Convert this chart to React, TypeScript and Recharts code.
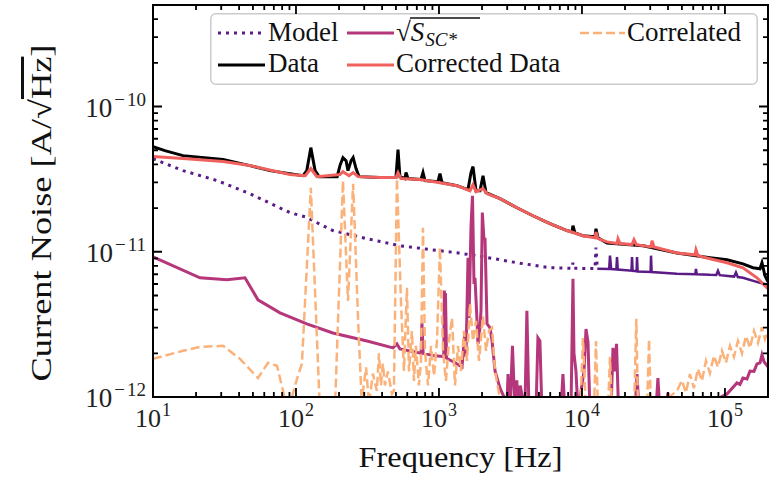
import React from "react";
import { Legend, Line, LineChart, XAxis, YAxis } from "recharts";

// Chart box and the plot rectangle left after margins and axis sizes
const W = 773;
const H = 478;
const MARGIN = { top: 5, right: 5, bottom: 0, left: 0 };
const Y_AXIS_W = 153;
const X_AXIS_H = 81;
const PLOT = {
  left: MARGIN.left + Y_AXIS_W,
  right: W - MARGIN.right,
  top: MARGIN.top,
  bottom: H - MARGIN.bottom - X_AXIS_H,
};

const FONT = "'Liberation Serif', 'DejaVu Serif', serif";

const C_MODEL = "#5a1b86";
const C_SSC = "#b5367a";
const C_CORR = "#f0605d";
const C_CORRL = "#fbb27a";
const C_DATA = "#000000";

// Axis decades and their exponent labels
const X_MAJOR = [10, 100, 1000, 10000, 100000];
const X_EXP = ["1", "2", "3", "4", "5"];
const Y_MAJOR = [1e-12, 1e-11, 1e-10];
const Y_EXP = ["12", "11", "10"];

const X_DOMAIN: [number, number] = [10, 2e5];
const Y_DOMAIN: [number, number] = [1e-12, 5e-10];

// Measured current noise (Hz, A/sqrt(Hz))
const dataFreq = [
  10, 12.1, 16.2, 30.9, 47.6, 65.8, 90.7, 112, 119, 127,
  136, 145, 194, 203, 213, 224, 231, 243, 251, 263,
  276, 386, 500, 517, 533, 578, 588, 607, 748, 773,
  798, 984, 1016, 1050, 1337, 1596, 1675, 1730, 1815, 1936,
  2032, 2133, 2673, 3510, 4540, 5970, 7850, 8510, 8650, 8930,
  10160, 12330, 12530, 12940, 14960, 26730, 46130, 78500, 103300, 133600,
  157000, 175800, 181500, 190500, 200000,
];
const dataAmp = [
  5.3e-11, 4.97e-11, 4.59e-11, 4.31e-11, 3.92e-11, 3.62e-11, 3.45e-11, 3.34e-11, 3.62e-11, 5.21e-11,
  3.62e-11, 3.29e-11, 3.29e-11, 3.92e-11, 4.45e-11, 4.24e-11, 3.62e-11, 4.24e-11, 4.45e-11, 3.74e-11,
  3.29e-11, 3.24e-11, 3.24e-11, 5.05e-11, 3.29e-11, 3.19e-11, 3.51e-11, 3.19e-11, 3.14e-11, 3.51e-11,
  3.09e-11, 3.04e-11, 3.45e-11, 2.99e-11, 2.85e-11, 2.68e-11, 3.51e-11, 3.86e-11, 2.63e-11, 2.63e-11,
  3.34e-11, 2.55e-11, 2.32e-11, 2.01e-11, 1.77e-11, 1.56e-11, 1.4e-11, 1.37e-11, 1.51e-11, 1.35e-11,
  1.29e-11, 1.27e-11, 1.44e-11, 1.25e-11, 1.15e-11, 1.1e-11, 9.8e-12, 9.1e-12, 8.81e-12, 8.26e-12,
  7.76e-12, 7.63e-12, 8.4e-12, 6.83e-12, 6.21e-12,
];

// After subtracting the correlated part
const corrFreq = [
  10, 16.2, 30.9, 47.6, 90.7, 116, 127, 140, 203, 213,
  235, 251, 272, 386, 500, 517, 542, 736, 1016, 1337,
  1648, 1730, 1815, 2032, 2168, 2673, 3510, 4540, 5970, 7850,
  10160, 12330, 12530, 12940, 14960, 17580, 17870, 18450, 22390, 23120,
  24000, 30400, 30900, 31900, 46130, 61700, 62700, 64700, 78500, 103300,
  133600, 167500, 200000,
];
const corrAmp = [
  4.52e-11, 4.38e-11, 4.18e-11, 3.92e-11, 3.4e-11, 3.34e-11, 3.74e-11, 3.29e-11, 3.4e-11, 3.56e-11,
  3.34e-11, 3.51e-11, 3.29e-11, 3.24e-11, 3.24e-11, 3.51e-11, 3.19e-11, 3.14e-11, 2.99e-11, 2.85e-11,
  2.63e-11, 2.9e-11, 2.59e-11, 2.72e-11, 2.51e-11, 2.32e-11, 2.01e-11, 1.77e-11, 1.56e-11, 1.4e-11,
  1.29e-11, 1.25e-11, 1.37e-11, 1.23e-11, 1.17e-11, 1.14e-11, 1.23e-11, 1.14e-11, 1.12e-11, 1.21e-11,
  1.12e-11, 1.08e-11, 1.19e-11, 1.08e-11, 9.8e-12, 9.53e-12, 1.03e-11, 9.38e-12, 8.95e-12, 8.4e-12,
  7.76e-12, 6.62e-12, 5.56e-12,
];

// Noise model, smooth part (drawn dotted)
const modelFreq = [
  10, 16.2, 28.1, 47.6, 90.7, 116, 181, 314, 533, 908,
  1337, 2032, 3510, 5970, 8510, 8650, 8800, 12330, 12530, 12800,
];
const modelAmp = [
  4.37e-11, 3.62e-11, 3.09e-11, 2.51e-11, 1.86e-11, 1.74e-11, 1.4e-11, 1.23e-11, 1.1e-11, 1.03e-11,
  9.84e-12, 9.24e-12, 8.4e-12, 7.76e-12, 7.7e-12, 8.4e-12, 7.7e-12, 7.65e-12, 1.07e-11, 7.65e-12,
];

// Noise model above ~13 kHz, where the dense points read as a solid line
const modelHfFreq = [
  12800, 15500, 15700, 16000, 17400, 17580, 17800, 22200, 22390, 22600,
  24100, 24270, 24500, 30200, 30400, 30700, 46130, 62000, 62700, 63500,
  78500, 87000, 89340, 92000, 116000, 119400, 123000, 133600, 175800, 200000,
];
const modelHfAmp = [
  7.65e-12, 7.6e-12, 9.4e-12, 7.6e-12, 7.55e-12, 9.2e-12, 7.55e-12, 7.4e-12, 9.2e-12, 7.4e-12,
  7.35e-12, 9.2e-12, 7.3e-12, 7.25e-12, 9.4e-12, 7.25e-12, 7.05e-12, 7.0e-12, 7.63e-12, 7.0e-12,
  6.94e-12, 6.93e-12, 7.39e-12, 6.9e-12, 6.75e-12, 7.2e-12, 6.7e-12, 6.62e-12, 6.11e-12, 5.92e-12,
];

// sqrt(S_SC*)
const sscFreq = [
  10, 21.3, 32.9, 44, 54.2, 77.3, 119, 181, 314, 477,
  508, 533, 736, 750, 760, 775, 937, 1080, 1090, 1102,
  1110, 1130, 1295, 1449, 1520, 1545, 1596, 1622, 1675, 1715,
  1758, 1786, 1830, 1875, 1936, 1967, 2010, 2065, 2098, 2168,
  2276, 2350, 2466, 2673, 2992, 3040, 3140, 3265, 3400, 3500,
  3600, 3700, 3990, 4120, 4260, 4770, 4920, 5080, 5250, 7130,
  7360, 7600, 8380, 8650, 8790, 9080, 9380, 10330, 10670, 11020,
  11370, 15960, 16480, 16870, 17450, 18020, 23500, 24270, 25060, 32900,
  33970, 35090, 38630, 39910, 41200, 66830, 85100, 103300, 121300, 127400,
  133600, 142600, 149600, 159600, 167500, 175800, 181500, 187600, 200000,
];
const sscAmp = [
  9.24e-12, 6.62e-12, 6.41e-12, 6.62e-12, 4.67e-12, 3.8e-12, 3.19e-12, 2.76e-12, 2.43e-12, 2.18e-12,
  2.32e-12, 2.14e-12, 2.01e-12, 2.0e-12, 3.24e-12, 2.0e-12, 1.92e-12, 1.9e-12, 5.4e-12, 3.0e-12,
  5.2e-12, 1.85e-12, 1.72e-12, 1.61e-12, 2.85e-12, 1.9e-12, 9.1e-12, 3.5e-12, 1.5e-11, 2.43e-11,
  6.0e-12, 6.62e-12, 4.0e-12, 2.32e-12, 3.0e-12, 3.92e-12, 1.86e-11, 1.2e-11, 1.25e-11, 3.19e-12,
  2.99e-12, 2.43e-12, 1.51e-12, 1.15e-12, 9e-13, 1.44e-12, 8e-13, 2.25e-12, 8e-13, 1.3e-12,
  8e-13, 1.2e-12, 8e-13, 3.92e-12, 8e-13, 8e-13, 2.55e-12, 2.43e-12, 8e-13, 8e-13,
  1.44e-12, 8e-13, 8e-13, 6.51e-12, 2.0e-12, 1.5e-12, 8e-13, 1.5e-12, 2.94e-12, 2.4e-12,
  8e-13, 8e-13, 2.18e-12, 1.5e-12, 2.32e-12, 8e-13, 8e-13, 1.44e-12, 8e-13, 8e-13,
  1.35e-12, 8e-13, 8e-13, 1.07e-12, 8e-13, 8e-13, 9.5e-13, 1.05e-12, 1.25e-12, 1.22e-12,
  1.35e-12, 1.33e-12, 1.51e-12, 1.5e-12, 1.69e-12, 1.72e-12, 1.95e-12, 1.75e-12, 1.61e-12,
];

// Correlated noise
const corrlFreq = [
  10, 16.2, 21.3, 30.9, 40.6, 54.2, 63.7, 73.6, 87.9, 102,
  110, 127, 147, 160, 187, 213, 231, 251, 272, 290,
  294, 309, 324, 345, 368, 380, 393, 405, 419, 439,
  469, 484, 508, 542, 569, 597, 617, 647, 668, 690,
  724, 748, 773, 798, 838, 880, 923, 968, 1016, 1067,
  1119, 1175, 1233, 1295, 1358, 1425, 1496, 1570, 1648, 1730,
  1815, 1905, 2032, 2133, 2239, 2350, 2466, 2589, 2763, 9720,
  10160, 10670, 12130, 12530, 12940, 15200, 15700, 16220, 23120, 24000,
  24660, 28500, 29440, 30400, 46130, 50000, 53300, 56890, 60700, 64700,
  69000, 73600, 78500, 83700, 89340, 95300, 101600, 108400, 115600, 123300,
  131500, 140300, 149600, 159600, 170200, 181500, 190500, 200000,
];
const corrlAmp = [
  1.83e-12, 2.08e-12, 2.21e-12, 2.25e-12, 1.83e-12, 1.35e-12, 1.72e-12, 1.64e-12, 8e-13, 1.35e-12,
  1.69e-12, 2.76e-11, 8e-13, 7e-13, 8e-13, 3.09e-11, 4.59e-12, 2.94e-11, 3.34e-12, 8e-13,
  1.1e-12, 1.6e-12, 9e-13, 1.45e-12, 1.1e-12, 2.0e-12, 1.2e-12, 1.7e-12, 1.2e-12, 1.5e-12,
  1.05e-12, 1.1e-12, 3.19e-11, 4.59e-12, 1.51e-12, 5.65e-12, 1.5e-12, 2.85e-12, 1.29e-12, 2.25e-12,
  1.2e-12, 1.77e-12, 1.46e-11, 2.08e-12, 1.2e-12, 2.25e-12, 1.4e-12, 2.43e-12, 1.07e-11, 2.08e-12,
  1.29e-12, 2.43e-12, 3.51e-12, 1.2e-12, 2.25e-12, 1.51e-12, 2.85e-12, 1.77e-12, 4.38e-12, 2.43e-12,
  3.34e-12, 1.77e-12, 3.62e-12, 2.08e-12, 2.85e-12, 2.99e-12, 1.51e-12, 1.15e-12, 8e-13, 8e-13,
  2.55e-12, 8e-13, 8e-13, 2.43e-12, 8e-13, 8e-13, 1.89e-12, 8e-13, 8e-13, 3.45e-12,
  8e-13, 8e-13, 2.5e-12, 8e-13, 1.1e-12, 1.3e-12, 1.07e-12, 1.44e-12, 1.15e-12, 1.56e-12,
  1.29e-12, 1.77e-12, 1.46e-12, 1.92e-12, 1.61e-12, 2.08e-12, 1.72e-12, 2.25e-12, 1.89e-12, 2.43e-12,
  2.0e-12, 2.63e-12, 2.18e-12, 2.85e-12, 2.36e-12, 3.03e-12, 2.5e-12, 2.85e-12,
];

const rows = (f: number[], v: number[]) => f.map((x, i) => ({ f: x, v: v[i] }));

const withMinors = (majors: number[], max: number) => {
  const out: number[] = [];
  majors.forEach((m) => {
    for (let k = 1; k <= 9; k++) {
      if (m * k < max * 0.999) out.push(m * k);
    }
  });
  return out;
};

const majorIndex = (majors: number[], v: number) =>
  majors.findIndex((m) => Math.abs(v / m - 1) < 1e-6);

const xTicks = withMinors(X_MAJOR, X_DOMAIN[1]);
const yTicks = withMinors(Y_MAJOR, Y_DOMAIN[1]);

// log position of a value inside the plot rectangle (same mapping as the chart axes)
const logFrac = (v: number, [a, b]: [number, number]) =>
  (Math.log10(v) - Math.log10(a)) / (Math.log10(b) - Math.log10(a));
const xPos = (f: number) => PLOT.left + logFrac(f, X_DOMAIN) * (PLOT.right - PLOT.left);
const yPos = (v: number) => PLOT.bottom - logFrac(v, Y_DOMAIN) * (PLOT.bottom - PLOT.top);

const MAJOR_LEN = 9;
const MINOR_LEN = 5;

// Frame with inward ticks on all four sides
function Frame() {
  let d = "";
  xTicks.forEach((f) => {
    const x = xPos(f);
    const len = majorIndex(X_MAJOR, f) >= 0 ? MAJOR_LEN : MINOR_LEN;
    d += `M${x},${PLOT.bottom}V${PLOT.bottom - len}M${x},${PLOT.top}V${PLOT.top + len}`;
  });
  yTicks.forEach((v) => {
    const y = yPos(v);
    const len = majorIndex(Y_MAJOR, v) >= 0 ? MAJOR_LEN : MINOR_LEN;
    d += `M${PLOT.left},${y}H${PLOT.left + len}M${PLOT.right},${y}H${PLOT.right - len}`;
  });
  return (
    <svg
      width={W}
      height={H}
      style={{ position: "absolute", left: 0, top: 0, pointerEvents: "none", zIndex: 2 }}
    >
      <path d={d} stroke="#000" strokeWidth={1.8} fill="none" />
      <rect
        x={PLOT.left}
        y={PLOT.top}
        width={PLOT.right - PLOT.left}
        height={PLOT.bottom - PLOT.top}
        stroke="#000"
        strokeWidth={2}
        fill="none"
      />
    </svg>
  );
}

function BottomLabel(props: any) {
  const { x, y, payload } = props;
  const i = majorIndex(X_MAJOR, payload.value);
  if (i < 0) return <g />;
  return (
    <text x={x} y={y + 30} textAnchor="middle" fontFamily={FONT} fontSize={26} fill="#222">
      10
      <tspan dx={1} dy={-11} fontSize={18}>
        {X_EXP[i]}
      </tspan>
    </text>
  );
}

function LeftLabel(props: any) {
  const { x, y, payload } = props;
  const i = majorIndex(Y_MAJOR, payload.value);
  if (i < 0) return <g />;
  return (
    <text x={x - 7} y={y + 10} textAnchor="end" fontFamily={FONT} fontSize={27} fill="#222">
      10
      <tspan dx={2} dy={-11} fontSize={19}>
        {"\u2212"}
      </tspan>
      <tspan dx={2} fontSize={19}>
        {Y_EXP[i]}
      </tspan>
    </text>
  );
}

function XTitle() {
  return (
    <text
      x={(PLOT.left + PLOT.right) / 2}
      y={467}
      textAnchor="middle"
      fontFamily={FONT}
      fontSize={30}
      fill="#111"
      textLength={204}
      lengthAdjust="spacingAndGlyphs"
    >
      Frequency [Hz]
    </text>
  );
}

function YTitle() {
  return (
    <text
      transform="translate(51,213) rotate(-90)"
      textAnchor="middle"
      fontFamily={FONT}
      fontSize={30}
      fill="#111"
      textLength={337}
      lengthAdjust="spacingAndGlyphs"
    >
      Current Noise [A/{"\u221A"}
      <tspan style={{ textDecoration: "overline" }}>Hz</tspan>]
    </text>
  );
}

function LegendBox() {
  const text = { fontFamily: FONT, fontSize: 27, fill: "#111" };
  return (
    <svg width={548} height={72} style={{ display: "block" }}>
      <rect
        x={0.75}
        y={0.75}
        width={546.5}
        height={70.5}
        rx={5}
        fill="#fff"
        fillOpacity={0.85}
        stroke="#cccccc"
        strokeWidth={1.5}
      />
      <line x1={8} x2={55} y1={20} y2={20} stroke={C_MODEL} strokeWidth={3} strokeDasharray="3 5" />
      <text x={58} y={28} {...text}>Model</text>

      <line x1={137} x2={184} y1={20} y2={20} stroke={C_SSC} strokeWidth={3} />
      <text x={186} y={28} {...text}>
        {"\u221A"}
        <tspan fontStyle="italic">S</tspan>
        <tspan fontStyle="italic" fontSize={19} dx={1} dy={5}>SC*</tspan>
      </text>
      <line x1={200} x2={270} y1={5} y2={5} stroke="#111" strokeWidth={1.4} />

      <line x1={370} x2={415} y1={20} y2={20} stroke={C_CORRL} strokeWidth={2.5} strokeDasharray="9 4" />
      <text x={417} y={28} {...text}>Correlated</text>

      <line x1={8} x2={55} y1={52} y2={52} stroke={C_DATA} strokeWidth={3} />
      <text x={58} y={59} {...text}>Data</text>

      <line x1={137} x2={184} y1={52} y2={52} stroke={C_CORR} strokeWidth={3} />
      <text x={186} y={59} {...text}>Corrected Data</text>
    </svg>
  );
}

const lineStyle = { dot: false, activeDot: false, isAnimationActive: false } as const;

export default function App() {
  return (
    <div style={{ position: "absolute", left: 0, top: 0, width: W, height: H, background: "#fff" }}>
      <LineChart width={W} height={H} margin={MARGIN}>
        <XAxis
          dataKey="f"
          type="number"
          scale="log"
          domain={X_DOMAIN}
          allowDataOverflow
          ticks={xTicks}
          interval={0}
          tickSize={0}
          tickMargin={0}
          tickLine={false}
          axisLine={false}
          tick={(p: any) => <BottomLabel {...p} />}
          height={X_AXIS_H}
          label={<XTitle />}
        />
        <YAxis
          dataKey="v"
          type="number"
          scale="log"
          domain={Y_DOMAIN}
          allowDataOverflow
          ticks={yTicks}
          interval={0}
          tickSize={0}
          tickMargin={0}
          tickLine={false}
          axisLine={false}
          tick={(p: any) => <LeftLabel {...p} />}
          width={Y_AXIS_W}
          label={<YTitle />}
        />
        <Line {...lineStyle} data={rows(modelFreq, modelAmp)} dataKey="v" name="Model"
          stroke={C_MODEL} strokeWidth={3} strokeDasharray="3 5" />
        <Line {...lineStyle} data={rows(modelHfFreq, modelHfAmp)} dataKey="v" name="Model (HF)"
          legendType="none" stroke={C_MODEL} strokeWidth={2.5} />
        <Line {...lineStyle} data={rows(dataFreq, dataAmp)} dataKey="v" name="Data"
          stroke={C_DATA} strokeWidth={3} />
        <Line {...lineStyle} data={rows(sscFreq, sscAmp)} dataKey="v" name="SSC"
          stroke={C_SSC} strokeWidth={3} />
        <Line {...lineStyle} data={rows(corrFreq, corrAmp)} dataKey="v" name="Corrected Data"
          stroke={C_CORR} strokeWidth={3} />
        <Line {...lineStyle} data={rows(corrlFreq, corrlAmp)} dataKey="v" name="Correlated"
          stroke={C_CORRL} strokeWidth={2.5} strokeDasharray="9 4" />
        <Legend
          layout="horizontal"
          verticalAlign="middle"
          align="center"
          content={() => <LegendBox />}
          wrapperStyle={{ left: 210, top: 13, width: 548, height: 72 }}
        />
      </LineChart>
      <Frame />
    </div>
  );
}
